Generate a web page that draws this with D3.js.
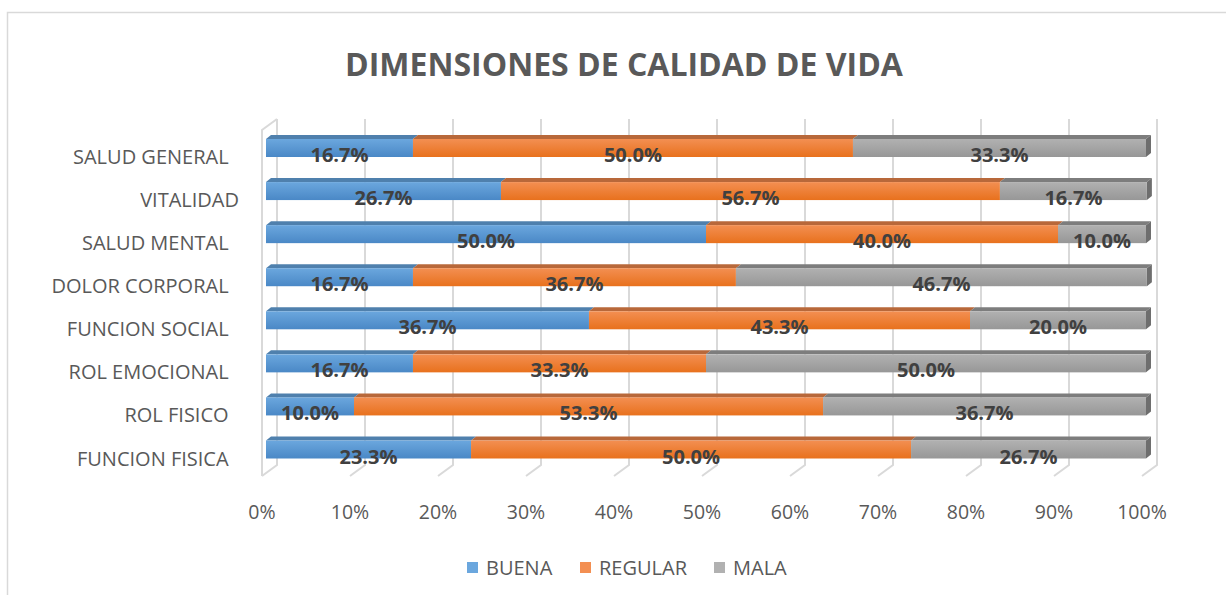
<!DOCTYPE html>
<html lang="es">
<head>
  <meta charset="UTF-8">
  <title>Dimensiones de calidad de vida</title>
  <script src="https://d3js.org/d3.v7.min.js"></script>
  <style>
    body { background: #fff; margin: 0; }
    svg { display: block; font-family: "Open Sans", sans-serif; }
    .grid { stroke: #d9d9d9; stroke-width: 2; fill: none; }
    .cat { fill: #595959; font-size: 20px; white-space: pre; }
    .tick { fill: #595959; font-size: 19.5px; }
    .lbl { fill: #404040; font-size: 20px; font-weight: bold; }
    .leg { fill: #595959; font-size: 20px; }
  </style>
</head>
<body>
  <svg width="1226" height="595"></svg>

  <script>
    // data (top to bottom, as shown)
    const categories = ["SALUD GENERAL  ", "VITALIDAD", "SALUD MENTAL  ", "DOLOR CORPORAL  ",
                        "FUNCION SOCIAL  ", "ROL EMOCIONAL  ", "ROL FISICO  ", "FUNCION FISICA  "];
    const buena   = [16.7, 26.7, 50.0, 16.7, 36.7, 16.7, 10.0, 23.3];
    const regular = [50.0, 56.7, 40.0, 36.7, 43.3, 33.3, 53.3, 50.0];
    const mala    = [33.3, 16.7, 10.0, 46.7, 20.0, 50.0, 36.7, 26.7];
    const seriesNames = ["BUENA", "REGULAR", "MALA"];
    const ticks = [0, 10, 20, 30, 40, 50, 60, 70, 80, 90, 100];

    const svg = d3.select("svg");

    const x = d3.scaleLinear().domain([0, 100]).range([266, 1146]);
    const y = d3.scalePoint().domain(categories).range([148, 449.5]);
    const barH = 18;
    const dx = 5, dy = 4;          // bar top / side depth
    const wallDx = 15, wallDy = 11; // back wall depth
    const wallTop = 119, floorBack = 465;

    const colors = {
      BUENA:   { top: "#4f80ad", a: "#6ba7de", b: "#4a88c6" },
      REGULAR: { top: "#b8683a", a: "#f38f52", b: "#e8711d" },
      MALA:    { top: "#7d7d7d", a: "#b1b1b1", b: "#979797", side: "#6e6e6e" }
    };

    // chart border
    svg.append("rect")
      .attr("x", 7.5).attr("y", 12.5)
      .attr("width", 1240).attr("height", 600)
      .attr("fill", "none").attr("stroke", "#d9d9d9").attr("stroke-width", 1.5);

    // gradients
    const defs = svg.append("defs");
    seriesNames.forEach(s => {
      const g = defs.append("linearGradient")
        .attr("id", "g-" + s).attr("x1", 0).attr("y1", 0).attr("x2", 0).attr("y2", 1);
      g.append("stop").attr("offset", "0%").attr("stop-color", colors[s].a);
      g.append("stop").attr("offset", "100%").attr("stop-color", colors[s].b);
    });

    // title
    svg.append("text")
      .attr("x", 624).attr("y", 76)
      .attr("text-anchor", "middle")
      .attr("fill", "#595959")
      .style("font-size", "32px").style("font-weight", "bold")
      .text("DIMENSIONES DE CALIDAD DE VIDA");

    // back wall gridlines + floor
    const grid = svg.append("g");
    ticks.forEach(t => {
      const xb = x(t) + wallDx - 4, xf = x(t) - 4;
      grid.append("path").attr("class", "grid")
        .attr("d", `M${xb},${wallTop} L${xb},${floorBack} L${xf},${floorBack + wallDy}`);
    });
    // left wall front edge
    grid.append("path").attr("class", "grid")
      .attr("stroke-width", 1.5)
      .attr("d", `M${x(0) + wallDx - 4},${wallTop} L${x(0) - 4},${wallTop + wallDy} L${x(0) - 4},${floorBack + wallDy}`);

    // stacked bars
    const stacks = categories.map((c, i) => {
      const vals = [buena[i], regular[i], mala[i]];
      let acc = 0;
      return vals.map((v, k) => {
        const d = { cat: c, s: seriesNames[k], v: v, x0: acc, x1: acc + v, last: k === 2 };
        acc += v;
        return d;
      });
    }).flat();

    const bars = svg.append("g").selectAll("g").data(stacks).join("g");

    bars.append("path")
      .attr("fill", d => colors[d.s].top)
      .attr("d", d => {
        const x0 = x(d.x0), x1 = x(d.x1), yt = y(d.cat) - barH / 2;
        return `M${x0},${yt} L${x0 + dx},${yt - dy} L${x1 + dx},${yt - dy} L${x1},${yt} Z`;
      });

    bars.filter(d => d.last).append("path")
      .attr("fill", d => colors[d.s].side)
      .attr("d", d => {
        const x1 = x(d.x1), yt = y(d.cat) - barH / 2;
        return `M${x1},${yt} L${x1 + dx},${yt - dy} L${x1 + dx},${yt + barH - dy} L${x1},${yt + barH} Z`;
      });

    bars.append("rect")
      .attr("x", d => x(d.x0))
      .attr("y", d => y(d.cat) - barH / 2)
      .attr("width", d => x(d.x1) - x(d.x0))
      .attr("height", barH)
      .attr("fill", d => `url(#g-${d.s})`);

    // data labels
    svg.append("g").selectAll("text").data(stacks).join("text")
      .attr("class", "lbl")
      .attr("x", d => x((d.x0 + d.x1) / 2))
      .attr("y", d => y(d.cat) + 14)
      .attr("text-anchor", "middle")
      .text(d => d.v.toFixed(1) + "%");

    // category labels
    svg.append("g").selectAll("text").data(categories).join("text")
      .attr("class", "cat")
      .attr("x", 239)
      .attr("y", d => y(d) + 16)
      .attr("text-anchor", "end")
      .text(d => d);

    // x tick labels
    svg.append("g").selectAll("text").data(ticks).join("text")
      .attr("class", "tick")
      .attr("x", d => x(d) - 4)
      .attr("y", 519)
      .attr("text-anchor", "middle")
      .text(d => d + "%");

    // legend
    const legX = [467, 580, 714];
    const leg = svg.append("g").selectAll("g").data(seriesNames).join("g")
      .attr("transform", (d, i) => `translate(${legX[i]},562)`);
    leg.append("rect")
      .attr("width", 11).attr("height", 11)
      .attr("fill", d => colors[d].a);
    leg.append("text")
      .attr("class", "leg")
      .attr("x", 19).attr("y", 13)
      .text(d => d);
  </script>
</body>
</html>
